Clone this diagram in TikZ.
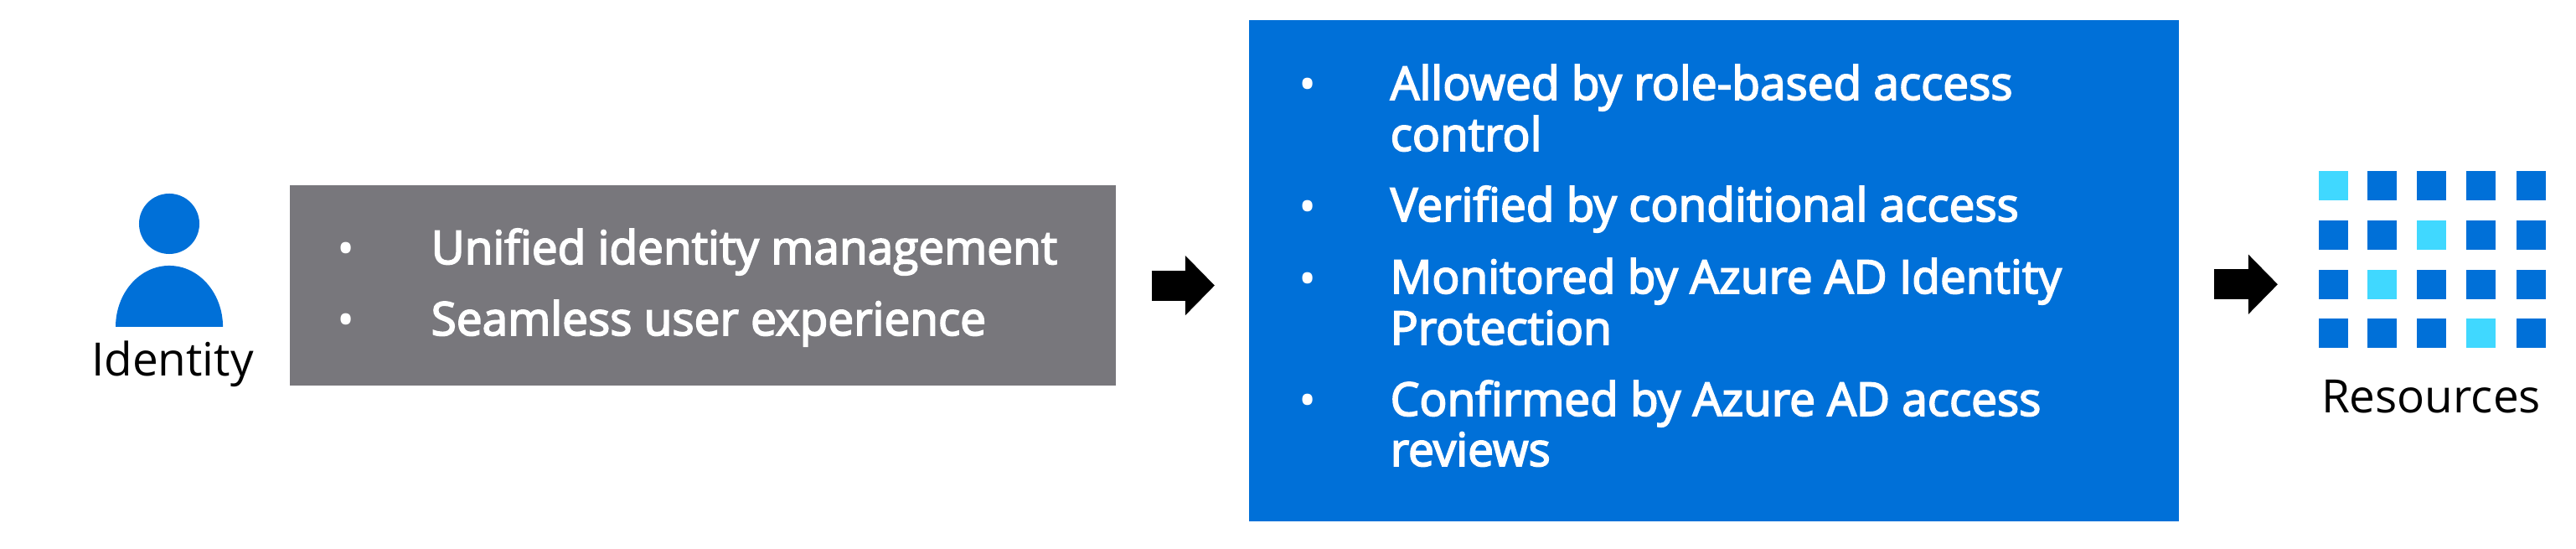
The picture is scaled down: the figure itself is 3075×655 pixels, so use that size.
\documentclass[tikz,border=0pt]{standalone}
\usepackage{fontspec}
\setmainfont{Open Sans}
\newfontfamily\itemfont[FakeStretch=0.995,FakeBold=3.2]{Open Sans}
\usetikzlibrary{positioning,arrows.meta}
\definecolor{azureblue}{HTML}{0070D8}
\definecolor{azurelight}{HTML}{40D8FF}
\definecolor{boxgray}{HTML}{78777C}
\tikzset{
  panel/.style={anchor=north west,inner sep=0pt,outer sep=0pt},
  itemtext/.style={anchor=base west,inner sep=0pt,text=white,font=\itemfont\fontsize{15.7}{17}\selectfont},
  itemdot/.style={inner sep=0pt,yshift=-0.07cm,text=white,font=\fontsize{16}{17}\selectfont},
  caption/.style={anchor=base,inner sep=0pt,text=black,font=\fontsize{15.6}{17}\selectfont},
  blockarrow/.style={line width=0.36cm,-{Triangle[length=0.35cm,width=0.69cm]}},
  cell/.style={anchor=north west,inner sep=0pt,outer sep=0pt,minimum size=0.345cm,fill=azureblue},
  cellhi/.style={cell,fill=azurelight}
}
\begin{document}
\begin{tikzpicture}[x=0.01cm,y=-0.01cm]
    \useasboundingbox (0,0) rectangle (3075,655);

    % Identity
    \node[circle,fill=azureblue,minimum size=0.72cm,inner sep=0pt] (head) at (202,267) {};
    \fill[azureblue] (138,390) arc[start angle=180,end angle=0,x radius=0.64cm,y radius=0.73cm] -- cycle; % Shoulders
    \node[caption] (identity) at (206,449) {Identity};

    % Gray panel
    \node[panel,fill=boxgray,minimum width=9.85cm,minimum height=2.39cm] (mgmtbox) at (346,221) {};
    \node[itemdot] (dotA) at (413,296) {•};
    \node[itemdot] (dotB) at (413,381) {•};
    \node[itemtext] (unified) at (514,315) {Unified identity management};
    \node[itemtext] (seamless) at (514,400) {Seamless user experience};

    % Blue panel
    \node[panel,fill=azureblue,minimum width=11.09cm,minimum height=5.98cm] (accessbox) at (1491,24) {};
    \node[itemdot] (dotC) at (1561,100) {•};
    \node[itemdot] (dotD) at (1561,246) {•};
    \node[itemdot] (dotE) at (1561,332) {•};
    \node[itemdot] (dotF) at (1561,477) {•};
    \node[itemtext] (allowed) at (1659,119) {Allowed by role-based access};
    \node[itemtext] (control) at (1659,180) {control};
    \node[itemtext] (verified) at (1659,264) {Verified by conditional access};
    \node[itemtext] (monitored) at (1659,350) {Monitored by Azure AD Identity};
    \node[itemtext] (protection) at (1659,411) {Protection};
    \node[itemtext] (confirmed) at (1659,496) {Confirmed by Azure AD access};
    \node[itemtext] (reviews) at (1659,556) {reviews};

    % Resources
    \foreach \col/\xx in {1/2768,2/2826,3/2885,4/2944,5/3004}
        \foreach \row/\yy in {1/204,2/263,3/322,4/380}
            \node[cell] (res-\col-\row) at (\xx,\yy) {};
    \node[cellhi] at (res-1-1.north west) {};
    \node[cellhi] at (res-3-2.north west) {};
    \node[cellhi] at (res-2-3.north west) {};
    \node[cellhi] at (res-4-4.north west) {};
    \node[caption] (resources) at (2902,492) {Resources};

    % Arrows
    \draw[blockarrow,shorten <=0.43cm,shorten >=0.41cm] (mgmtbox.east) -- (mgmtbox.east -| accessbox.west);
    \draw[blockarrow,shorten <=0.42cm,shorten >=0.49cm] (accessbox.east |- res-1-3.west) -- (res-1-3.west);
\end{tikzpicture}
\end{document}
